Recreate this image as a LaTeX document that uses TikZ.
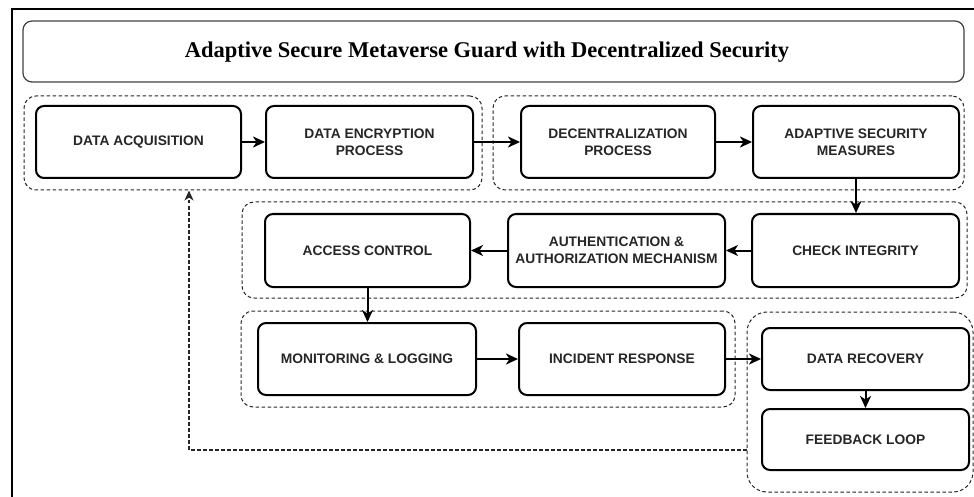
\documentclass[tikz,border=0pt]{standalone}
\usepackage{fontspec}
\setmainfont{Liberation Serif}
\setsansfont{Liberation Sans}
\usepackage{tikz}
\usetikzlibrary{arrows.meta, positioning}

\begin{document}
\begin{tikzpicture}[x=1pt, y=-1pt,
    block/.style={draw=black, line width=2pt, rounded corners=8pt,
                  minimum height=72pt, inner sep=0pt, align=center,
                  text=black!85,
                  font=\sffamily\bfseries\fontsize{13.8}{16.7}\selectfont},
    group/.style={draw=black!85, line width=1pt, rounded corners=12pt,
                  dash pattern=on 3.5pt off 2.5pt, inner sep=0pt},
    link/.style={line width=2pt, -{Stealth[length=12pt, width=11pt, inset=3.5pt]}}]
    % Add the frame
        \path[use as bounding box, clip] (0,0) rectangle (974,497);
        \draw[line width=1.3pt] (12,510) -- (12,9) -- (990,9);
        \node[draw=black!75, line width=1.2pt, rounded corners=9pt,
              minimum width=941pt, minimum height=61pt] (T) at (493.5,51.5) {};
        \node[font=\bfseries\fontsize{22.5}{26}\selectfont] (TT) at (487,52)
              {Adaptive Secure Metaverse Guard with Decentralized Security};
    % Add the groups
        \node[group, minimum width=458pt, minimum height=94pt] (G1) at (253,143) {};
        \node[group, minimum width=471pt, minimum height=94pt] (G2) at (728.5,143) {};
        \node[group, minimum width=725pt, minimum height=96pt] (G3) at (604.5,250) {};
        \node[group, minimum width=494pt, minimum height=96pt] (G4) at (488,359) {};
        \node[group, minimum width=226pt, minimum height=180pt,
              rounded corners=20pt] (G5) at (860,402) {};
    % Add the steps
        \node[block, minimum width=205pt] (ACQ) at (138.5,142) {DATA ACQUISITION};
        \node[block, minimum width=207pt,
              right=23pt of ACQ] (ENC) {DATA ENCRYPTION\\PROCESS};
        \node[block, minimum width=194pt,
              right=46pt of ENC] (DEC) {DECENTRALIZATION\\PROCESS};
        \node[block, minimum width=206pt,
              right=36pt of DEC] (ADA) {ADAPTIVE SECURITY\\MEASURES};
        \node[block, minimum width=205pt, minimum height=73pt] (ACC) at (367.5,250.5) {ACCESS CONTROL};
        \node[block, minimum width=217pt, minimum height=73pt,
              right=36pt of ACC] (AUT) {AUTHENTICATION \&\\AUTHORIZATION MECHANISM};
        \node[block, minimum width=207pt, minimum height=73pt,
              right=25pt of AUT] (CHK) {CHECK INTEGRITY};
        \node[block, minimum width=218pt] (MON) at (367,359) {MONITORING \& LOGGING};
        \node[block, minimum width=206pt,
              right=41pt of MON] (INC) {INCIDENT RESPONSE};
        \node[block, minimum width=207pt, minimum height=62pt,
              right=35pt of INC] (REC) {DATA RECOVERY};
        \node[block, minimum width=207pt, minimum height=61pt,
              below=17pt of REC] (FBK) {FEEDBACK LOOP};
        \coordinate (B) at (189,450);

        \draw[link] (ACQ) -- (ENC);
        \draw[link] (ENC) -- (DEC);
        \draw[link] (DEC) -- (ADA);
        \draw[link] (ADA.south) -- (ADA.south |- CHK.north);
        \draw[link] (CHK) -- (AUT);
        \draw[link] (AUT) -- (ACC);
        \draw[link] (ACC.south) -- (ACC.south |- MON.north);
        \draw[link] (MON) -- (INC);
        \draw[link] (INC) -- (REC);
        \draw[link] (REC) -- (FBK);
        \draw[draw=black!85, line width=1.1pt, dash pattern=on 3.5pt off 2.5pt,
              -{Stealth[length=10pt, width=9pt, inset=3pt]}]
            (G5.west |- B) -- (B) -- (B |- G1.south);
    \end{tikzpicture}
\end{document}
